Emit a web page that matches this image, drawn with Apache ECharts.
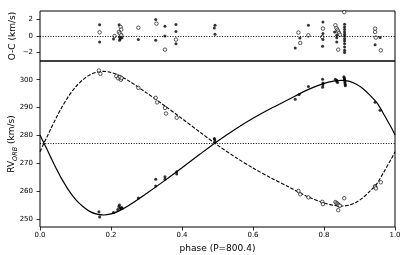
<!DOCTYPE html>
<html><head><meta charset="utf-8">
<script src="https://cdn.jsdelivr.net/npm/echarts@6/dist/echarts.min.js"></script>
<style>html,body{margin:0;padding:0;background:#fff}#c{width:407px;height:255px}</style>
</head><body><div id="c"></div>
<script>
// ---- model curves ----
const curvePhase = [0.00,0.01,0.02,0.03,0.04,0.05,0.06,0.08,0.10,0.12,0.14,0.16,0.18,0.20,0.22,0.25,0.30,0.35,0.40,0.45,0.50,0.55,0.60,0.65,0.70,0.75,0.80,0.83,0.85,0.87,0.89,0.91,0.93,0.95,0.97,0.99,1.00];
const curvePrimary = [280.2,277.6,275.0,272.3,269.7,267.2,264.8,260.6,257.2,254.7,252.9,251.9,251.6,252.0,252.9,255.0,259.3,263.8,268.5,273.3,278.0,282.3,286.2,289.7,292.9,296.2,298.7,299.6,299.8,299.5,298.5,296.8,294.4,291.6,287.3,282.8,280.2];
const curveSecondary = [274.2,277.0,279.6,282.3,284.9,287.4,289.8,294.0,297.4,299.9,301.7,302.7,303.0,302.6,301.7,299.6,295.3,290.8,286.1,281.3,276.6,272.3,268.4,264.9,261.7,258.4,255.9,255.0,254.8,255.1,256.1,257.8,260.2,263.0,267.3,271.8,274.2];
const gamma = 277.3;

// ---- observed RVs ----
const obsPhase1 = [0.166,0.168,0.207,0.219,0.222,0.224,0.226,0.228,0.230,0.232,0.277,0.326,0.326,0.352,0.352,0.385,0.385,0.491,0.492,0.493,0.719,0.730,0.756,0.796,0.797,0.797,0.796,0.832,0.836,0.836,0.838,0.856,0.857,0.858,0.858,0.859,0.859,0.860,0.860,0.944,0.958];
const obsRV1 = [252.8,250.9,252.5,253.6,254.6,255.2,254.0,253.8,254.3,253.9,257.7,262.0,264.4,265.3,264.4,267.1,266.3,279.0,278.6,277.9,293.0,294.7,297.6,300.2,298.8,298.1,297.3,300.2,299.8,299.4,299.0,301.1,300.6,300.3,299.9,299.4,298.8,298.3,297.8,291.9,289.1];
const obsPhase2 = [0.166,0.170,0.215,0.220,0.225,0.228,0.230,0.277,0.326,0.330,0.352,0.355,0.385,0.728,0.733,0.756,0.795,0.797,0.832,0.835,0.838,0.840,0.842,0.845,0.840,0.857,0.944,0.944,0.946,0.960];
const obsRV2 = [303.3,302.1,301.3,300.5,301.0,300.0,300.6,297.1,293.5,291.9,289.9,287.9,286.4,260.2,259.0,257.9,256.3,255.5,256.2,255.8,255.6,255.3,255.0,254.9,253.3,257.6,261.9,261.5,261.1,263.3];

// ---- residuals O-C ----
const ocPhase1 = [0.168,0.168,0.207,0.223,0.224,0.226,0.224,0.229,0.231,0.277,0.326,0.326,0.352,0.352,0.383,0.383,0.383,0.493,0.491,0.493,0.719,0.732,0.756,0.797,0.797,0.797,0.796,0.830,0.836,0.836,0.836,0.858,0.858,0.858,0.858,0.858,0.858,0.858,0.858,0.858,0.858,0.858,0.858,0.944,0.958];
const oc1 = [1.36,-0.71,-0.35,1.36,-0.12,-0.32,-0.50,0.15,-0.20,-0.43,1.97,-0.52,1.17,0.00,1.37,0.53,-0.92,1.29,0.96,0.20,-1.45,-0.24,1.29,1.69,0.29,-0.43,-1.24,0.48,0.08,-0.20,-0.72,1.41,1.09,0.77,0.48,0.20,-0.04,-0.32,-0.60,-0.92,-1.32,-1.72,-1.98,-1.04,-0.19];
const ocPhase2 = [0.168,0.210,0.227,0.229,0.222,0.225,0.229,0.277,0.328,0.352,0.383,0.728,0.733,0.756,0.797,0.795,0.832,0.835,0.838,0.840,0.842,0.845,0.840,0.857,0.944,0.944,0.946,0.960];
const oc2 = [0.44,0.00,1.08,0.77,0.48,0.30,0.10,1.00,1.49,-1.64,-0.43,0.41,-0.84,0.08,0.89,-0.12,1.29,0.95,0.75,0.55,0.35,0.15,-1.64,2.86,0.89,0.48,-0.19,-1.72];

// ---- ticks ----
const xTicks = [0.0,0.2,0.4,0.6,0.8,1.0];
const ocTicks = [-2,0,2];
const rvTicks = [250,260,270,280,290,300];

const zip = (a,b) => a.map((v,i)=>[v,b[i]]);
const FONT = 'DejaVu Sans';
const fmtMinus = v => String(v).replace('-', '\u2212');

const dotted = (y) => ({
  silent: true, symbol: 'none', label: {show: false},
  lineStyle: {type: [1, 1.6], color: '#000', width: 1},
  data: [{yAxis: y}]
});

const chart = echarts.init(document.getElementById('c'), null, {renderer: 'canvas'});
chart.setOption({
  animation: false,
  backgroundColor: '#fff',
  textStyle: {fontFamily: FONT},
  grid: [
    {left: 40, right: 12, top: 11, height: 50, show: true, borderColor: '#000', borderWidth: 1, backgroundColor: 'transparent', outerBoundsMode: 'none', containLabel: false},
    {left: 40, right: 12, top: 61, height: 166, show: true, borderColor: '#000', borderWidth: 1, backgroundColor: 'transparent', outerBoundsMode: 'none', containLabel: false}
  ],
  xAxis: [
    {gridIndex: 0, type: 'value', min: 0, max: 1, axisLine: {show: false}, axisTick: {show: false}, axisLabel: {show: false}, splitLine: {show: false}},
    {gridIndex: 1, type: 'value', min: 0, max: 1, interval: 0.2,
     axisLine: {show: false}, splitLine: {show: false},
     axisTick: {show: true, inside: false, length: 3.5, lineStyle: {color: '#000', width: 0.8}, customValues: xTicks},
     axisLabel: {fontSize: 7, color: '#000', fontFamily: FONT, margin: 5, customValues: xTicks, formatter: v => v.toFixed(1)},
     name: 'phase (P=800.4)', nameLocation: 'middle', nameGap: 13,
     nameTextStyle: {fontSize: 9, color: '#000', fontFamily: FONT}}
  ],
  yAxis: [
    {gridIndex: 0, type: 'value', min: -3, max: 3, splitLine: {show: false}, axisLine: {show: false},
     axisTick: {show: true, inside: false, length: 3.5, lineStyle: {color: '#000', width: 0.8}, customValues: ocTicks},
     axisLabel: {fontSize: 7, color: '#000', fontFamily: FONT, margin: 7, customValues: ocTicks, formatter: fmtMinus},
     name: 'O-C (km/s)', nameLocation: 'middle', nameGap: 22.5, nameMoveOverlap: false,
     nameTextStyle: {fontSize: 9, color: '#000', fontFamily: FONT}},
    {gridIndex: 1, type: 'value', min: 247.3, max: 306.7, splitLine: {show: false}, axisLine: {show: false},
     axisTick: {show: true, inside: false, length: 3.5, lineStyle: {color: '#000', width: 0.8}, customValues: rvTicks},
     axisLabel: {fontSize: 7, color: '#000', fontFamily: FONT, margin: 7, customValues: rvTicks},
     name: '{a|RV}{b|ORB}{a| (km/s)}', nameLocation: 'middle', nameGap: 24, nameMoveOverlap: false,
     nameTextStyle: {color: '#000', fontFamily: FONT,
       rich: {a: {fontSize: 9, fontFamily: FONT, color: '#000', verticalAlign: 'bottom', lineHeight: 12},
              b: {fontSize: 6.5, fontFamily: FONT, fontStyle: 'italic', color: '#000', verticalAlign: 'bottom', lineHeight: 12, padding: [0, 0, -3, 0]}}}}
  ],
  series: [
    {type: 'line', xAxisIndex: 1, yAxisIndex: 1, data: zip(curvePhase, curvePrimary), showSymbol: false, smooth: 0.3,
     lineStyle: {color: '#000', width: 1.2}, markLine: dotted(gamma), z: 2},
    {type: 'line', xAxisIndex: 1, yAxisIndex: 1, data: zip(curvePhase, curveSecondary), showSymbol: false, smooth: 0.3,
     lineStyle: {color: '#000', width: 1.1, type: [3.7, 1.6]}, z: 2},
    {type: 'scatter', xAxisIndex: 0, yAxisIndex: 0, data: zip(ocPhase1, oc1), symbolSize: 3,
     itemStyle: {color: '#000'}, markLine: dotted(0), z: 3},
    {type: 'scatter', xAxisIndex: 0, yAxisIndex: 0, data: zip(ocPhase2, oc2), symbolSize: 3.5,
     itemStyle: {color: '#fff', borderColor: '#000', borderWidth: 0.8}, z: 3},
    {type: 'scatter', xAxisIndex: 1, yAxisIndex: 1, data: zip(obsPhase1, obsRV1), symbolSize: 3,
     itemStyle: {color: '#000'}, z: 3},
    {type: 'scatter', xAxisIndex: 1, yAxisIndex: 1, data: zip(obsPhase2, obsRV2), symbolSize: 3.5,
     itemStyle: {color: '#fff', borderColor: '#000', borderWidth: 0.8}, z: 3}
  ]
});
</script>
</body></html>
